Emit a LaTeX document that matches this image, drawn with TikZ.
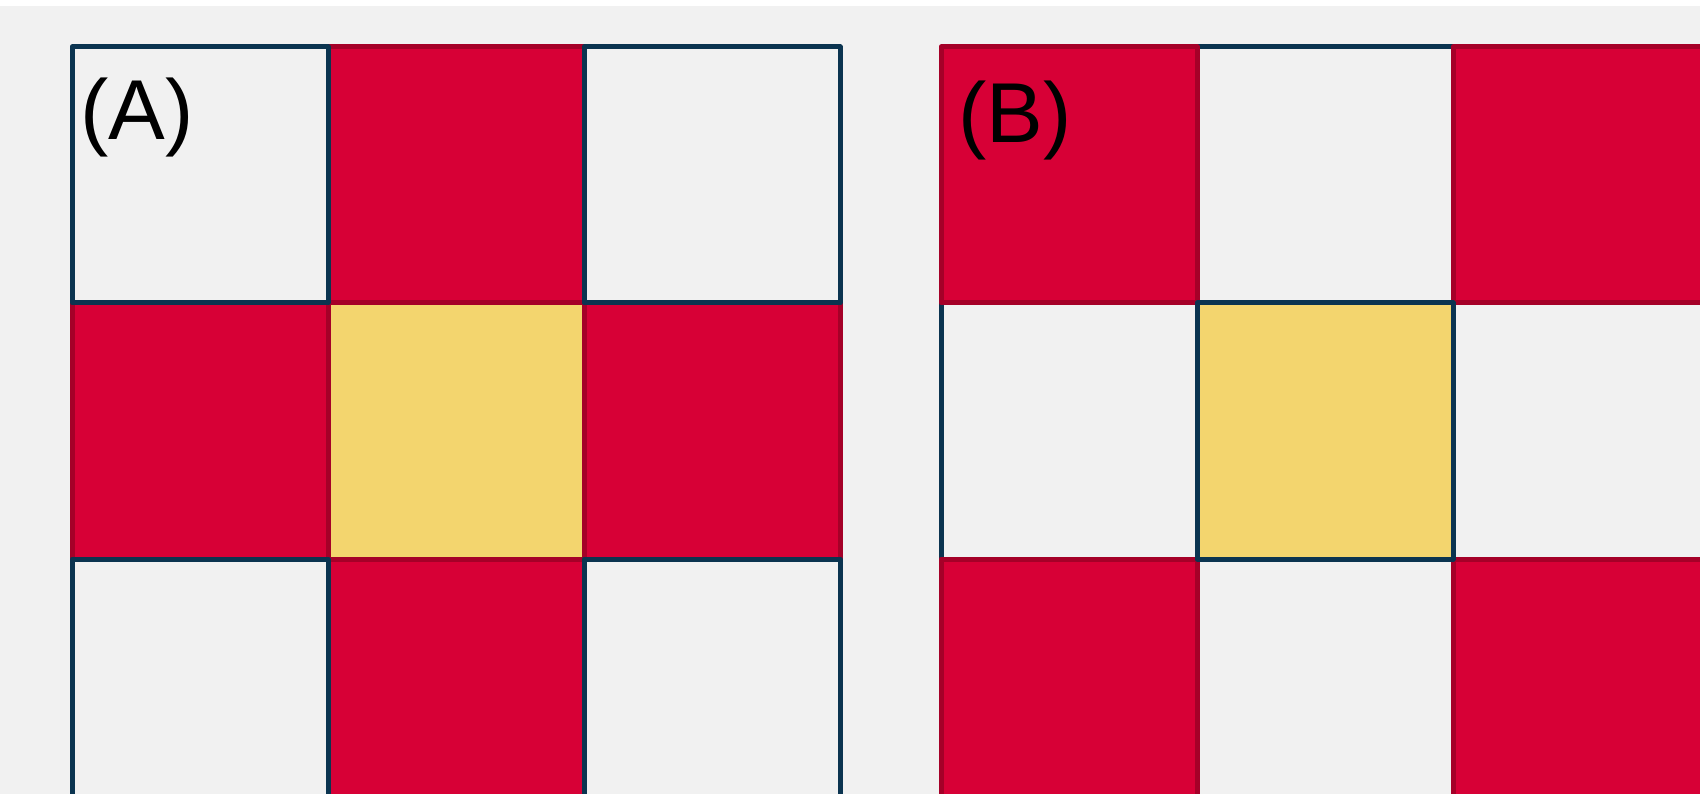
\documentclass[tikz,border=0pt]{standalone}
\usepackage{fontspec}
\setmainfont{Liberation Sans}
\definecolor{bg}{HTML}{F1F1F1}
\definecolor{redfill}{HTML}{D70036}
\definecolor{redline}{HTML}{A50028}
\definecolor{blueline}{HTML}{0B3450}
\definecolor{yellowfill}{HTML}{F3D56E}
\tikzset{
  cell/.style={rectangle, inner sep=0pt, minimum width=256pt, minimum height=256pt, line width=5pt, line join=round},
  graycell/.style={cell, fill=bg, draw=blueline},
  redcell/.style={cell, fill=redfill, draw=redline},
  yelcellA/.style={cell, fill=yellowfill, draw=redline},
  yelcellB/.style={cell, fill=yellowfill, draw=blueline},
  lbl/.style={anchor=base west, inner sep=0pt, font=\fontsize{85pt}{100pt}\selectfont}
}
\begin{document}
\begin{tikzpicture}[x=1pt,y=-1pt]
\useasboundingbox (0,0) rectangle (1700,794);
\fill[white] (0,0) rectangle (1700,794);
\fill[bg] (0,6) rectangle (1700,794);
\clip (0,6) rectangle (1700,794);
% Grid A
\node[yelcellA] (a22) at (456,431) {};
\node[redcell] (a12) at (456,175) {};
\node[redcell] (a21) at (200,431) {};
\node[redcell] (a23) at (712,431) {};
\node[redcell] (a32) at (456,687) {};
\node[graycell] (a11) at (200,175) {};
\node[graycell] (a13) at (712,175) {};
\node[graycell] (a31) at (200,687) {};
\node[graycell] (a33) at (712,687) {};
% Grid B
\node[graycell] (b12) at (1325,175) {};
\node[graycell] (b21) at (1069,431) {};
\node[graycell] (b23) at (1581,431) {};
\node[graycell] (b32) at (1325,687) {};
\node[redcell] (b11) at (1069,175) {};
\node[redcell] (b13) at (1581,175) {};
\node[redcell] (b31) at (1069,687) {};
\node[redcell] (b33) at (1581,687) {};
\node[yelcellB] (b22) at (1325,431) {};
% Labels
\node[lbl] (la) at (80,140) {(A)};
\node[lbl] (lb) at (958,143) {(B)};
\end{tikzpicture}
\end{document}
